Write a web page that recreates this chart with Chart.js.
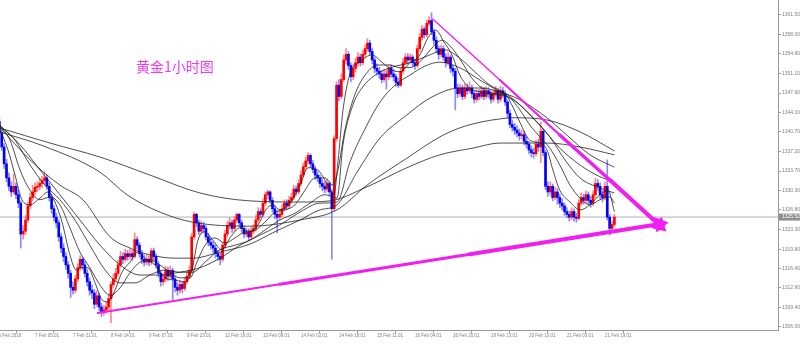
<!DOCTYPE html>
<html><head><meta charset="utf-8">
<script src="https://cdn.jsdelivr.net/npm/chart.js@4.4.1/dist/chart.umd.min.js"></script>
<style>html,body{margin:0;padding:0;background:#fff;overflow:hidden}#wrap{width:800px;height:344px}</style>
</head><body><div id="wrap"><canvas id="c" width="800" height="344"></canvas></div>
<script>
const titleText = '黄金1小时图';
const xTickLabels = ['6 Feb 2018','7 Feb 05:01','7 Feb 21:01','8 Feb 14:01','9 Feb 07:01','9 Feb 23:01','12 Feb 16:01','13 Feb 09:01','14 Feb 02:01','14 Feb 18:01','15 Feb 11:01','16 Feb 04:01','16 Feb 20:01','19 Feb 13:01','20 Feb 10:01','21 Feb 03:01','21 Feb 19:01'];
const xTickPos = [-0.4,15,31,47,63,79,95,111,127,143,159,175,191,207,223,239,255];
const yTicks = [1306.00,1309.40,1312.90,1316.40,1319.80,1323.30,1326.80,1330.30,1333.70,1337.20,1340.70,1344.10,1347.60,1351.10,1354.60,1358.00,1361.50];

const opens = [
1342.5,1340.5,1338.0,1335.0,1332.5,1331.0,1330.0,1331.0,1329.5,1328.0,
1322.5,1323.0,1325.0,1327.5,1329.0,1330.0,1330.8,1331.0,1331.5,1332.0,
1332.5,1331.0,1329.0,1327.0,1325.5,1324.5,1322.0,1320.0,1318.5,1317.0,
1315.5,1313.0,1312.5,1314.5,1316.5,1318.0,1317.0,1315.5,1314.0,1312.5,
1312.0,1310.0,1311.5,1309.5,1308.5,1309.0,1309.5,1311.0,1313.5,1314.5,
1315.5,1317.0,1318.5,1318.0,1319.0,1318.5,1319.0,1318.5,1321.5,1320.5,
1319.0,1318.0,1317.5,1318.0,1317.5,1319.5,1318.5,1317.0,1315.5,1314.0,
1314.5,1316.0,1315.0,1316.0,1314.5,1313.0,1312.5,1313.5,1312.8,1314.0,
1315.0,1316.0,1322.0,1326.0,1324.5,1323.0,1324.0,1323.5,1322.0,1321.0,
1320.5,1320.0,1319.0,1318.5,1318.0,1320.5,1322.5,1324.0,1324.5,1323.5,
1325.0,1326.0,1324.5,1323.5,1322.5,1322.8,1322.0,1323.0,1323.5,1325.0,
1326.5,1326.0,1328.0,1329.5,1330.0,1328.5,1327.0,1326.0,1325.5,1326.0,
1327.0,1328.0,1327.5,1328.5,1329.0,1330.5,1330.0,1331.5,1333.0,1334.5,
1335.5,1336.5,1335.0,1334.0,1333.0,1332.5,1331.5,1331.0,1330.5,1331.5,
1330.0,1327.0,1339.5,1349.0,1347.0,1350.0,1353.5,1354.5,1352.5,1350.5,
1352.0,1353.0,1354.0,1353.0,1354.5,1355.5,1356.5,1355.0,1353.5,1352.0,
1351.5,1351.0,1350.0,1351.0,1350.5,1352.0,1351.0,1350.5,1349.5,1349.0,
1351.5,1353.0,1354.0,1353.5,1354.0,1353.0,1352.5,1355.5,1357.5,1359.0,
1358.0,1360.0,1360.5,1358.5,1357.0,1355.5,1354.5,1355.5,1354.0,1353.0,
1354.0,1352.0,1351.5,1348.5,1347.5,1348.5,1347.0,1348.5,1348.0,1348.5,
1347.5,1346.5,1347.5,1347.0,1348.0,1347.0,1348.0,1347.5,1346.5,1347.5,
1348.0,1346.5,1348.0,1347.5,1346.0,1344.0,1342.0,1341.5,1341.0,1340.5,
1340.0,1340.2,1339.0,1338.5,1337.5,1337.0,1336.8,1338.5,1338.0,1340.8,
1337.0,1331.0,1330.0,1331.0,1329.0,1330.0,1329.0,1328.0,1327.5,1326.5,
1326.0,1325.5,1326.5,1325.5,1325.3,1328.0,1329.0,1328.5,1329.5,1328.5,
1328.0,1329.5,1331.5,1331.0,1329.5,1329.0,1331.0,1325.5,1323.5,1324.2];
const highs = [
1343.2,1341.0,1338.6,1335.8,1333.4,1331.8,1333.2,1331.6,1330.2,1328.4,
1324.0,1325.8,1328.2,1329.8,1331.2,1331.6,1331.8,1332.4,1332.8,1333.6,
1333.0,1331.6,1329.6,1327.6,1326.2,1325.0,1322.6,1320.8,1319.2,1317.6,
1316.0,1314.0,1315.2,1317.2,1318.6,1318.4,1317.6,1316.2,1314.6,1313.4,
1312.6,1312.4,1312.0,1310.2,1309.8,1310.4,1311.8,1314.0,1315.4,1316.4,
1317.8,1319.4,1319.2,1319.8,1319.6,1319.8,1319.6,1322.7,1322.0,1321.0,
1319.6,1318.8,1318.8,1318.6,1320.0,1320.0,1319.0,1317.6,1316.0,1315.4,
1316.8,1316.6,1316.8,1316.4,1315.0,1313.8,1314.2,1314.0,1314.8,1315.8,
1316.8,1322.6,1326.4,1326.2,1325.0,1324.8,1324.6,1324.0,1322.6,1321.8,
1321.2,1320.6,1319.6,1319.2,1321.0,1323.2,1324.8,1325.4,1325.0,1325.6,
1326.2,1326.2,1325.0,1324.0,1323.6,1323.4,1323.8,1324.2,1325.8,1327.2,
1327.0,1328.8,1330.0,1330.3,1330.2,1329.0,1327.6,1326.6,1326.8,1327.8,
1328.6,1328.6,1329.2,1329.8,1331.2,1331.0,1332.2,1333.8,1335.2,1336.2,
1337.0,1336.8,1335.6,1334.6,1333.6,1333.0,1332.2,1331.8,1332.2,1331.8,
1330.4,1340.0,1349.6,1350.0,1351.0,1354.4,1355.5,1355.0,1353.0,1352.8,
1353.8,1354.8,1354.6,1355.2,1356.2,1357.3,1357.0,1355.6,1354.0,1352.8,
1352.2,1351.6,1351.8,1351.6,1352.6,1352.6,1351.8,1351.0,1350.2,1352.0,
1353.8,1354.6,1354.6,1354.6,1354.4,1353.6,1356.2,1358.2,1359.6,1359.4,
1360.6,1361.2,1361.9,1359.0,1357.6,1356.0,1356.2,1356.0,1354.6,1354.8,
1354.4,1352.6,1352.0,1349.2,1349.2,1349.0,1349.2,1349.2,1349.6,1349.0,
1348.0,1348.2,1348.2,1348.8,1348.6,1348.8,1348.6,1348.0,1348.2,1348.8,
1348.4,1348.8,1348.6,1348.0,1346.4,1344.6,1342.8,1342.2,1341.8,1341.2,
1341.0,1340.8,1339.8,1339.0,1338.2,1337.8,1339.2,1339.4,1342.4,1341.2,
1337.4,1331.8,1331.8,1331.4,1330.8,1330.6,1329.6,1328.8,1328.0,1327.2,
1326.6,1327.2,1327.0,1326.2,1328.6,1329.8,1329.6,1330.2,1330.0,1329.2,
1330.2,1332.4,1332.2,1331.6,1330.2,1331.8,1335.7,1326.0,1324.8,1326.0];
const lows = [
1339.8,1337.4,1334.2,1331.8,1330.2,1329.2,1329.6,1328.8,1327.2,1320.0,
1321.6,1322.4,1324.6,1327.0,1328.4,1329.4,1330.0,1330.4,1330.8,1331.4,
1330.4,1328.4,1326.2,1324.8,1323.6,1321.2,1319.2,1317.6,1316.2,1314.6,
1311.2,1311.8,1312.0,1314.0,1316.0,1316.2,1314.8,1313.2,1311.6,1311.0,
1309.2,1309.6,1308.8,1307.8,1308.0,1308.4,1309.0,1306.7,1313.0,1314.0,
1315.0,1316.6,1317.2,1317.6,1317.8,1318.0,1317.8,1318.2,1319.8,1318.4,
1317.2,1316.8,1317.0,1316.8,1317.0,1317.8,1316.4,1314.8,1313.2,1313.4,
1314.0,1314.2,1314.6,1310.8,1312.2,1311.6,1312.0,1312.0,1312.4,1313.6,
1314.6,1315.6,1321.6,1323.8,1322.4,1322.6,1322.8,1321.4,1320.4,1319.8,
1319.2,1318.2,1317.8,1317.0,1317.6,1320.0,1322.0,1323.4,1322.8,1323.0,
1324.6,1323.8,1322.8,1321.8,1322.0,1321.4,1321.6,1322.6,1323.0,1324.6,
1325.4,1325.6,1327.6,1328.8,1328.0,1326.4,1325.2,1322.7,1325.0,1325.6,
1326.6,1326.8,1327.0,1328.0,1328.6,1329.4,1329.6,1331.0,1332.6,1334.0,
1335.0,1334.4,1333.4,1332.2,1331.8,1330.8,1330.2,1329.8,1330.0,1329.4,
1318.0,1326.6,1339.0,1346.2,1346.6,1349.6,1352.8,1351.8,1349.6,1350.0,
1351.4,1352.4,1352.4,1352.6,1354.0,1355.0,1354.4,1352.8,1351.2,1350.8,
1350.2,1349.4,1349.6,1348.3,1350.0,1350.4,1349.8,1348.8,1348.6,1348.8,
1351.0,1352.6,1352.8,1353.0,1352.4,1351.8,1352.2,1355.0,1357.0,1357.4,
1357.6,1359.6,1358.0,1356.2,1354.8,1353.6,1354.0,1353.4,1352.2,1352.6,
1351.2,1350.6,1344.6,1346.8,1347.0,1346.4,1346.6,1347.4,1347.6,1346.8,
1345.8,1346.0,1346.4,1346.6,1346.4,1346.6,1346.8,1345.8,1346.0,1347.0,
1345.8,1346.0,1346.8,1345.4,1343.2,1341.4,1340.8,1340.2,1339.8,1339.2,
1339.4,1338.4,1337.8,1336.8,1336.2,1336.0,1336.4,1337.2,1335.2,1336.4,
1330.4,1329.2,1329.4,1328.4,1328.6,1327.8,1327.2,1326.8,1325.8,1325.4,
1324.8,1325.0,1324.8,1324.6,1325.0,1327.6,1327.8,1328.0,1327.8,1327.2,
1327.6,1329.0,1330.2,1328.8,1328.2,1328.6,1325.0,1322.3,1323.0,1323.8];
const closes = [
1340.5,1338.0,1335.0,1332.5,1331.0,1330.0,1331.0,1329.5,1328.0,1322.5,
1323.0,1325.0,1327.5,1329.0,1330.0,1330.8,1331.0,1331.5,1332.0,1332.5,
1331.0,1329.0,1327.0,1325.5,1324.5,1322.0,1320.0,1318.5,1317.0,1315.5,
1313.0,1312.5,1314.5,1316.5,1318.0,1317.0,1315.5,1314.0,1312.5,1312.0,
1310.0,1311.5,1309.5,1308.5,1309.0,1309.5,1311.0,1313.5,1314.5,1315.5,
1317.0,1318.5,1318.0,1319.0,1318.5,1319.0,1318.5,1321.5,1320.5,1319.0,
1318.0,1317.5,1318.0,1317.5,1319.5,1318.5,1317.0,1315.5,1314.0,1314.5,
1316.0,1315.0,1316.0,1314.5,1313.0,1312.5,1313.5,1312.8,1314.0,1315.0,
1316.0,1322.0,1326.0,1324.5,1323.0,1324.0,1323.5,1322.0,1321.0,1320.5,
1320.0,1319.0,1318.5,1318.0,1320.5,1322.5,1324.0,1324.5,1323.5,1325.0,
1326.0,1324.5,1323.5,1322.5,1322.8,1322.0,1323.0,1323.5,1325.0,1326.5,
1326.0,1328.0,1329.5,1330.0,1328.5,1327.0,1326.0,1325.5,1326.0,1327.0,
1328.0,1327.5,1328.5,1329.0,1330.5,1330.0,1331.5,1333.0,1334.5,1335.5,
1336.5,1335.0,1334.0,1333.0,1332.5,1331.5,1331.0,1330.5,1331.5,1330.0,
1327.0,1339.5,1349.0,1347.0,1350.0,1353.5,1354.5,1352.5,1350.5,1352.0,
1353.0,1354.0,1353.0,1354.5,1355.5,1356.5,1355.0,1353.5,1352.0,1351.5,
1351.0,1350.0,1351.0,1350.5,1352.0,1351.0,1350.5,1349.5,1349.0,1351.5,
1353.0,1354.0,1353.5,1354.0,1353.0,1352.5,1355.5,1357.5,1359.0,1358.0,
1360.0,1360.5,1358.5,1357.0,1355.5,1354.5,1355.5,1354.0,1353.0,1354.0,
1352.0,1351.5,1348.5,1347.5,1348.5,1347.0,1348.5,1348.0,1348.5,1347.5,
1346.5,1347.5,1347.0,1348.0,1347.0,1348.0,1347.5,1346.5,1347.5,1348.0,
1346.5,1348.0,1347.5,1346.0,1344.0,1342.0,1341.5,1341.0,1340.5,1340.0,
1340.2,1339.0,1338.5,1337.5,1337.0,1336.8,1338.5,1338.0,1340.8,1337.0,
1331.0,1330.0,1331.0,1329.0,1330.0,1329.0,1328.0,1327.5,1326.5,1326.0,
1325.5,1326.5,1325.5,1325.3,1328.0,1329.0,1328.5,1329.5,1328.5,1328.0,
1329.5,1331.5,1331.0,1329.5,1329.0,1331.0,1325.5,1323.5,1324.2,1325.52];

// moving-average lines: [bar index, price]
const maA = [[0,1341.4],[3.6,1337.5],[6.6,1333.0],[9.5,1328.6],[12.9,1327.7],[17.1,1328.9],[20.5,1330.0],[23.4,1328.2],[26.4,1324.6],[29.7,1318.8],[32.3,1316.1],[34.8,1316.5],[37.3,1316.5],[40.3,1313.8],[43.2,1310.8],[45.7,1310.4],[48.7,1312.5],[51.6,1315.7],[55.0,1317.5],[58.4,1319.3],[61.3,1318.2],[65.5,1317.0],[69.7,1314.7],[73.9,1314.3],[78.2,1314.0],[81.1,1316.1],[83.6,1321.4],[86.6,1322.9],[89.9,1321.4],[93.7,1319.7],[97.1,1321.8],[101.3,1323.6],[105.5,1322.9],[108.9,1324.1],[112.2,1326.8],[115.2,1327.7],[118.1,1326.8],[122.4,1328.0],[126.6,1331.2],[130.0,1334.3],[134.1,1333.9],[138.3,1331.2],[140.9,1329.5],[142.6,1335.4],[144.7,1344.5],[147.6,1351.0],[151.8,1353.1],[156.9,1354.4],[161.1,1353.1],[165.3,1351.7],[168.7,1351.4],[172.9,1353.0],[177.1,1354.4],[180.4,1357.4],[183.8,1358.8],[187.2,1356.7],[190.6,1354.4],[193.9,1350.8],[198.1,1348.5],[202.4,1347.8],[208.7,1347.3],[212.9,1347.3],[215.8,1345.5],[219.2,1342.4],[223.4,1339.2],[227.6,1338.7],[230.6,1337.5],[233.1,1333.9],[236.0,1330.3],[240.3,1328.2],[244.5,1326.8],[248.7,1327.7],[252.9,1329.5],[256.3,1330.3],[259,1326.5]];
const maB = [[0,1341.9],[4.5,1339.2],[8.7,1333.9],[12.9,1330.3],[17.1,1328.6],[21.3,1329.1],[25.5,1327.7],[29.7,1323.6],[33.9,1319.3],[38.1,1316.5],[42.4,1313.4],[46.6,1311.6],[50.8,1312.9],[55.0,1315.6],[59.2,1317.5],[63.4,1317.9],[67.6,1317.0],[71.8,1315.7],[76.0,1314.7],[80.3,1314.7],[83.2,1317.5],[86.6,1320.5],[90.8,1321.8],[95.0,1320.9],[99.2,1321.8],[103.4,1322.9],[107.6,1323.2],[111.8,1324.6],[116.0,1326.4],[120.3,1326.8],[124.5,1327.7],[128.7,1330.3],[132.9,1332.5],[137.1,1332.5],[140.5,1331.2],[142.6,1333.9],[145.5,1341.0],[149.7,1347.3],[154.0,1350.8],[159.4,1352.6],[164.5,1352.6],[168.7,1352.1],[173.7,1352.2],[177.9,1353.5],[182.1,1355.6],[186.4,1357.0],[190.6,1355.6],[194.8,1353.1],[198.9,1350.3],[204.5,1348.1],[210.8,1347.3],[215.0,1346.7],[219.2,1344.6],[223.4,1341.9],[227.6,1339.8],[231.8,1337.8],[236.0,1334.8],[240.3,1331.2],[244.5,1328.9],[248.7,1327.7],[252.9,1328.6],[257.1,1329.1],[259,1328.0]];
const maC = [[0,1341.9],[6.6,1339.2],[12.9,1334.8],[19.2,1331.2],[25.5,1328.6],[31.8,1325.0],[38.1,1320.5],[44.5,1316.1],[50.8,1313.8],[57.1,1313.8],[63.4,1315.2],[69.7,1316.1],[76.0,1315.7],[81.5,1315.7],[86.6,1317.5],[92.9,1319.7],[99.2,1320.5],[105.5,1321.4],[111.8,1323.2],[118.1,1325.0],[124.5,1326.2],[130.8,1328.0],[137.1,1329.5],[142.2,1328.9],[144.7,1338.4],[148.9,1345.5],[152.7,1348.5],[158.2,1350.8],[164.5,1352.1],[172.9,1353.0],[181.3,1354.4],[187.6,1355.3],[193.9,1353.8],[200.2,1351.4],[206.6,1349.0],[212.9,1347.6],[219.2,1345.5],[225.5,1342.8],[231.8,1339.8],[238.2,1335.7],[244.5,1332.5],[252.9,1330.7],[259,1329.8]];
const maD = [[0,1341.9],[8.7,1338.4],[17.1,1333.9],[25.5,1329.5],[33.9,1325.0],[42.4,1320.5],[50.8,1317.0],[59.2,1315.2],[67.6,1315.2],[76.0,1315.7],[84.5,1316.5],[92.9,1318.2],[101.3,1320.5],[109.7,1322.3],[118.1,1324.1],[126.6,1326.4],[135.0,1328.0],[142.2,1328.2],[147.6,1335.3],[154.8,1341.9],[160.3,1346.0],[166.6,1349.0],[172.9,1350.8],[179.2,1352.4],[185.5,1353.1],[193.9,1352.1],[202.4,1349.9],[210.8,1347.8],[219.2,1345.5],[227.6,1341.9],[236.0,1337.8],[244.5,1334.8],[252.9,1332.7],[259,1331.8]];
const maE = [[0,1341.6],[12.9,1335.7],[25.5,1331.2],[35.2,1328.6],[46.6,1322.0],[55.0,1320.0],[63.4,1318.8],[73.9,1318.2],[81.5,1318.2],[92.9,1319.3],[105.5,1320.7],[116.0,1322.9],[126.6,1325.0],[135.0,1326.8],[142.2,1327.7],[150.6,1333.5],[160.3,1339.6],[171.6,1343.7],[181.3,1346.7],[193.9,1348.5],[202.4,1348.5],[210.8,1347.8],[219.2,1346.4],[230.6,1343.2],[239.0,1340.1],[248.7,1336.6],[259,1334.4]];
const maF = [[0,1340.7],[18.4,1338.2],[42.4,1333.5],[53.7,1329.5],[67.6,1326.4],[81.5,1324.6],[105.5,1323.9],[126.6,1325.0],[142.2,1326.8],[154.8,1331.2],[171.6,1336.0],[185.5,1339.8],[193.9,1341.4],[202.4,1342.4],[210.8,1343.0],[216.3,1343.2],[230.6,1342.8],[244.5,1340.7],[259,1337.3]];
const maG = [[0,1341.4],[21.3,1338.7],[42.4,1336.2],[63.4,1333.0],[84.5,1329.8],[105.5,1328.4],[126.6,1328.2],[139.2,1328.4],[154.8,1330.9],[171.6,1334.3],[185.5,1336.6],[199.4,1337.8],[210.8,1338.7],[230.6,1338.7],[244.5,1338.0],[259,1336.6]];

// hand-drawn trend lines: [bar index, price]
const trendLow = [[41.5,1308.44],[118.1,1313.56],[198.1,1318.9],[278.1,1324.28]];
const trendHigh = [[182.5,1360.79],[210.8,1349.93],[236.0,1340.13],[257.1,1332.12],[278.1,1324.02]];

const lastPrice = closes[closes.length - 1];
</script>
<script>
const UP = '#ff0000', DOWN = '#0000ff';
const UPW = 'rgba(255,40,40,0.55)', DOWNW = 'rgba(40,40,255,0.55)';
const MAGENTA = '#f01ef0';
const X_MIN = 0.26, X_MAX = 327.9, Y_MIN = 1305.41, Y_MAX = 1364.17;
const toXY = arr => arr.map(p => ({x: p[0], y: p[1]}));
const isUp = closes.map((c, i) => c >= opens[i]);

const datasets = [];
datasets.push({type:'line', data:[{x:X_MIN,y:lastPrice},{x:X_MAX,y:lastPrice}], borderColor:'#a9b1be', borderWidth:1, pointRadius:0, order:10});
datasets.push({type:'bar', data: lows.map((l,i)=>({x:i, y:[l, highs[i]]})), backgroundColor: isUp.map(u=>u?UPW:DOWNW), barThickness:1, grouped:false, borderWidth:0, order:6});
datasets.push({type:'bar', data: opens.map((o,i)=>({x:i, y:[o, closes[i]]})), backgroundColor: isUp.map(u=>u?UP:DOWN), barThickness:2, minBarLength:1, grouped:false, borderWidth:0, order:5});
[maA, maB, maC, maD, maE, maF, maG].forEach(m => datasets.push({type:'line', data: toXY(m), borderColor:'rgba(35,35,35,0.8)', borderWidth:1, pointRadius:0, cubicInterpolationMode:'monotone', order:3}));
const lowW = [2, 3, 4], highW = [1.3, 2.3, 3.3, 4.3];
for (let k = 0; k < trendLow.length - 1; k++) datasets.push({type:'line', data: toXY(trendLow.slice(k, k+2)), borderColor:MAGENTA, borderWidth:lowW[k], pointRadius:0, borderCapStyle:'round', order:1});
for (let k = 0; k < trendHigh.length - 1; k++) datasets.push({type:'line', data: toXY(trendHigh.slice(k, k+2)), borderColor:MAGENTA, borderWidth:highW[k], pointRadius:0, borderCapStyle:'round', order:1});
datasets.push({type:'line', showLine:false, data: toXY([trendLow[trendLow.length-1]]), pointStyle:'triangle', pointRadius:9, pointRotation:81, pointBackgroundColor:MAGENTA, pointBorderColor:MAGENTA, pointBorderWidth:0, order:0});
datasets.push({type:'line', showLine:false, data: toXY([trendHigh[trendHigh.length-1]]), pointStyle:'triangle', pointRadius:9, pointRotation:133, pointBackgroundColor:MAGENTA, pointBorderColor:MAGENTA, pointBorderWidth:0, order:0});

const overlay = {
  id: 'overlay',
  afterDraw(chart) {
    const {ctx, chartArea: a, scales: {y}} = chart;
    ctx.save();
    ctx.font = '14px "Noto Sans CJK SC"';
    ctx.fillStyle = '#f03cf0';
    ctx.textBaseline = 'alphabetic';
    ctx.fillText(titleText, a.left + 136, a.top + 72);
    const py = y.getPixelForValue(lastPrice);
    ctx.fillStyle = '#8e8e8e';
    ctx.fillRect(a.right + 1, py - 3.5, 30, 7);
    ctx.fillStyle = '#ffffff';
    ctx.font = '5px "Liberation Sans"';
    ctx.textBaseline = 'middle';
    ctx.fillText(lastPrice.toFixed(2), a.right + 4, py);
    ctx.restore();
  }
};

new Chart(document.getElementById('c'), {
  type: 'bar',
  data: { datasets },
  plugins: [overlay],
  options: {
    responsive: false, animation: false, devicePixelRatio: 1, events: [],
    layout: { padding: 0, autoPadding: false },
    plugins: { legend: {display:false}, tooltip: {enabled:false}, title: {display:false} },
    scales: {
      x: {
        type: 'linear', min: X_MIN, max: X_MAX, offset: false,
        grid: { display: true, drawOnChartArea: false, drawTicks: true, tickLength: 3, color: '#9a9a9a' },
        border: { display: true, color: '#9a9a9a' },
        ticks: { autoSkip: false, maxRotation: 0, minRotation: 0, align: 'start', padding: 0, color: '#808080', font: {family: 'Liberation Sans', size: 4.5}, callback: (v, i) => xTickLabels[i] },
        afterBuildTicks: s => { s.ticks = xTickPos.map(v => ({value: v})); },
        afterFit: s => { s.height = 14; s.paddingLeft = 0; s.paddingRight = 0; }
      },
      y: {
        type: 'linear', position: 'right', min: Y_MIN, max: Y_MAX,
        grid: { display: true, drawOnChartArea: false, drawTicks: true, tickLength: 3, color: '#9a9a9a' },
        border: { display: true, color: '#9a9a9a' },
        ticks: { autoSkip: false, padding: 1, color: '#808080', font: {family: 'Liberation Sans', size: 5}, callback: v => Number(v).toFixed(2) },
        afterBuildTicks: s => { s.ticks = yTicks.map(v => ({value: v})); },
        afterFit: s => { s.width = 22; s.paddingTop = 0; s.paddingBottom = 0; }
      }
    }
  }
});
</script>
</body></html>
